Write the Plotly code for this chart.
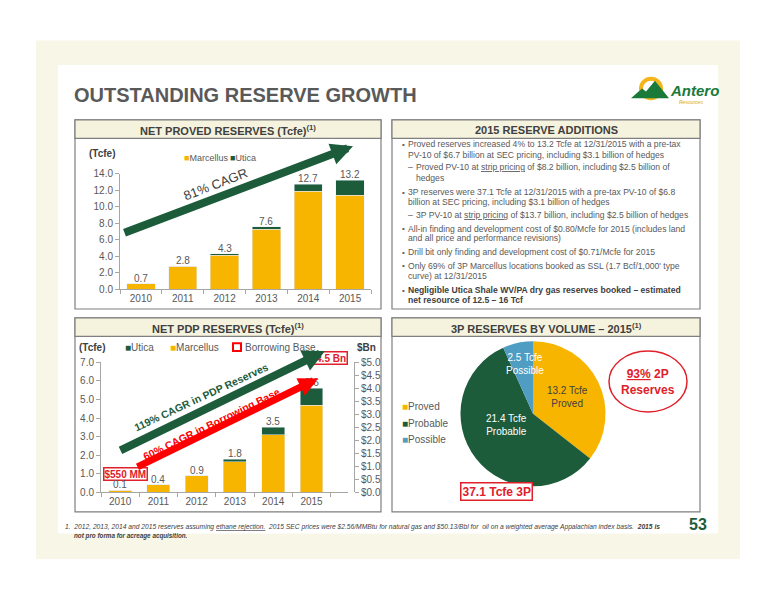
import plotly.graph_objects as go

# ---- data ----
years = ["2010", "2011", "2012", "2013", "2014", "2015"]

proved_marcellus = [0.7, 2.8, 4.15, 7.3, 11.9, 11.4]
proved_utica = [0.0, 0.0, 0.15, 0.3, 0.8, 1.8]
proved_totals = [0.7, 2.8, 4.3, 7.6, 12.7, 13.2]

pdp_marcellus = [0.1, 0.4, 0.9, 1.65, 3.1, 4.7]
pdp_utica = [0.0, 0.0, 0.0, 0.12, 0.4, 0.9]
pdp_totals = [0.1, 0.4, 0.9, 1.8, 3.5, 5.6]

bb_years = ["2010", "2015"]
bb_values = [0.55, 4.5]
bb_labels = ["$550 MM", "$4.5 Bn"]

pie_labels = ["Proved", "Probable", "Possible"]
pie_values = [13.2, 21.4, 2.5]

bullets = [
    (0, "Proved reserves increased 4% to 13.2 Tcfe at 12/31/2015 with a pre-tax", 141),
    (0, "PV-10 of $6.7 billion at SEC pricing, including $3.1 billion of hedges", 152),
    (1, "Proved PV-10 at <span style='text-decoration:underline'>strip pricing</span> of $8.2 billion, including $2.5 billion of", 164),
    (1, "hedges", 175),
    (0, "3P reserves were 37.1 Tcfe at 12/31/2015 with a pre-tax PV-10 of $6.8", 190),
    (0, "billion at SEC pricing, including $3.1 billion of hedges", 200),
    (1, "3P PV-10 at <span style='text-decoration:underline'>strip pricing</span> of $13.7 billion, including $2.5 billion of hedges", 213),
    (0, "All-in finding and development cost of $0.80/Mcfe for 2015 (includes land", 227),
    (0, "and all price and performance revisions)", 237),
    (0, "Drill bit only finding and development cost of $0.71/Mcfe for 2015", 251),
    (0, "Only 69% of 3P Marcellus locations booked as SSL (1.7 Bcf/1,000' type", 265),
    (0, "curve) at 12/31/2015", 275),
    (2, "<b>Negligible Utica Shale WV/PA dry gas reserves booked \u2013 estimated</b>", 290),
    (2, "<b>net resource of 12.5 \u2013 16 Tcf</b>", 300),
]
bullet_starts = [141, 190, 227, 251, 265, 290]
dash_starts = [164, 213]

# ---- styling ----
W, H = 776, 600
OFF = 8  # page body margin
GOLD = "#F7B500"
GREEN = "#1D5C3B"
BLUE = "#4F9DC2"
RED = "#FF0000"
DRED = "#E0202A"
TXT = "#595959"
FONT = "Liberation Sans, Arial, sans-serif"


def px(x):
    return (x - OFF) / W


def py(y):
    return 1 - (y - OFF) / H


fig = go.Figure()

# top chart: net proved reserves
fig.add_trace(go.Bar(x=years, y=proved_marcellus, name="Marcellus", marker_color=GOLD,
                     width=0.68, xaxis="x", yaxis="y"))
fig.add_trace(go.Bar(x=years, y=proved_utica, name="Utica", marker_color=GREEN,
                     width=0.68, xaxis="x", yaxis="y"))

# bottom chart: net PDP reserves
fig.add_trace(go.Bar(x=years, y=pdp_marcellus, name="Marcellus", marker_color=GOLD,
                     width=0.6, xaxis="x2", yaxis="y2"))
fig.add_trace(go.Bar(x=years, y=pdp_utica, name="Utica", marker_color=GREEN,
                     width=0.6, xaxis="x2", yaxis="y2"))
fig.add_trace(go.Scatter(x=bb_years, y=bb_values, mode="markers", marker=dict(opacity=0),
                         xaxis="x2", yaxis="y3", hoverinfo="skip"))

# pie: 3P reserves by volume
fig.add_trace(go.Pie(
    labels=pie_labels, values=pie_values, sort=False, direction="clockwise", rotation=0,
    marker=dict(colors=[GOLD, GREEN, BLUE], line=dict(width=0)),
    texttemplate="%{value} Tcfe<br>%{label}", textposition=["inside", "none", "none"],
    insidetextorientation="horizontal",
    insidetextfont=dict(size=10, color="#404040", family=FONT),
    domain=dict(x=[px(459), px(607)], y=[py(490), py(342)]),
))

axis_common = dict(showgrid=False, zeroline=False, showline=True, linecolor="#A6A6A6",
                   ticks="outside", ticklen=4, tickcolor="#A6A6A6",
                   tickfont=dict(size=10, color=TXT, family=FONT))

fig.update_layout(
    width=W, height=H, margin=dict(l=0, r=0, t=0, b=0),
    paper_bgcolor="white", plot_bgcolor="rgba(0,0,0,0)",
    barmode="stack", showlegend=False, font=dict(family=FONT, color=TXT),
    xaxis=dict(axis_common, domain=[px(120), px(371)], type="category", anchor="y",
               tickson="boundaries"),
    yaxis=dict(axis_common, domain=[py(289), py(171)], range=[0, 14], dtick=2,
               tickformat=".1f", anchor="x"),
    xaxis2=dict(axis_common, domain=[px(101), px(348)], type="category", anchor="y2",
                tickson="boundaries"),
    yaxis2=dict(axis_common, domain=[py(496), py(363.5)], range=[0, 7], dtick=1,
                tickformat=".1f", anchor="x2"),
    yaxis3=dict(axis_common, overlaying="y2", side="right", anchor="free", position=px(354),
                range=[0, 5], dtick=0.5, tickformat=".1f", tickprefix="$"),
)

shapes = []
# page background
shapes.append(dict(type="rect", x0=px(36), x1=px(740), y0=py(35), y1=py(564),
                   fillcolor="#F7F6E7", line_width=0))
shapes.append(dict(type="rect", x0=px(58), x1=px(718), y0=py(60), y1=py(538),
                   fillcolor="white", line_width=0))
# panels with header bands
panels = [(75, 381, 116, 309), (392, 700, 116, 309), (75, 381, 318, 516), (392, 700, 318, 516)]
for x0, x1, y0, y1 in panels:
    shapes.append(dict(type="rect", x0=px(x0), x1=px(x1), y0=py(y0), y1=py(y1),
                       line=dict(color="#7F7F7F", width=1.2)))
    shapes.append(dict(type="rect", x0=px(x0), x1=px(x1), y0=py(y0), y1=py(y0 + 19),
                       fillcolor="#F5F3DE", line=dict(color="#7F7F7F", width=1.2)))
for s in shapes:
    s.update(xref="paper", yref="paper", layer="below")

# logo
shapes.append(dict(type="circle", xref="paper", yref="paper", x0=px(639), x1=px(663),
                   y0=py(96), y1=py(72), fillcolor="#F4B41A", line_width=0))
shapes.append(dict(type="circle", xref="paper", yref="paper", x0=px(643), x1=px(659),
                   y0=py(92), y1=py(76), fillcolor="white", line_width=0))
mountain = [(631, 94), (642, 84), (646, 87), (655, 76), (669, 94)]
shapes.append(dict(type="path", xref="paper", yref="paper",
                   path="M " + " L ".join(f"{px(a)},{py(b)}" for a, b in mountain) + " Z",
                   fillcolor="#1A7A3A", line_width=0))

# borrowing base legend box
shapes.append(dict(type="rect", xref="paper", yref="paper", x0=px(233), x1=px(241),
                   y0=py(352), y1=py(344), line=dict(color=RED, width=2)))
# 93% 2P ellipse
shapes.append(dict(type="circle", xref="paper", yref="paper", x0=px(609), x1=px(687),
                   y0=py(414), y1=py(352), line=dict(color=DRED, width=1.5)))
fig.update_layout(shapes=shapes)

ann = []


def text(x, y, t, size=10, color=TXT, bold=False, xanchor="center", family=FONT, **kw):
    if bold:
        t = f"<b>{t}</b>"
    ann.append(dict(xref="paper", yref="paper", x=px(x), y=py(y), text=t, showarrow=False,
                    xanchor=xanchor, yanchor="middle", font=dict(size=size, color=color, family=family), **kw))


# borrowing base boxes first (category axis -> index positions), so labels draw over them
for yr, v, lab, xs, ys in zip(bb_years, bb_values, bb_labels, [5, 17], [4, 17]):
    ann.append(dict(xref="x2", yref="y3", x=years.index(yr), y=v, text=f"<b>{lab}</b>",
                    showarrow=False, xshift=xs, yshift=ys, bgcolor="white", bordercolor=DRED,
                    borderwidth=1.5, borderpad=0, font=dict(size=10, color=DRED, family=FONT)))

# total labels sitting on top of the stacks
for xr, yr, totals in [("x", "y", proved_totals), ("x2", "y2", pdp_totals)]:
    for i, v in enumerate(totals):
        ann.append(dict(xref=xr, yref=yr, x=i, y=v, text=f"{v:.1f}", showarrow=False,
                        yanchor="bottom", yshift=-2, font=dict(size=10, color=TXT, family=FONT)))

text(72, 91, "OUTSTANDING RESERVE GROWTH", size=20, bold=True, xanchor="left")
text(668, 86, "<i>Antero</i>", size=15, color="#1A7A3A", bold=True, xanchor="left")
text(705, 98, "<i>Resources</i>", size=5, color="#E0A800", xanchor="right")

text(228, 126, "NET PROVED RESERVES (Tcfe)<sup>(1)</sup>", size=11, color="#404040", bold=True)
text(546, 126, "2015 RESERVE ADDITIONS", size=11, color="#404040", bold=True)
text(228, 328, "NET PDP RESERVES (Tcfe)<sup>(1)</sup>", size=11, color="#404040", bold=True)
text(546, 328, "3P RESERVES BY VOLUME \u2013 2015<sup>(1)</sup>", size=11, color="#404040", bold=True)

# legends
text(87, 150, "(Tcfe)", size=10, color="#404040", bold=True, xanchor="left")
text(182, 155, f"<span style='color:{GOLD}'>\u25a0</span>Marcellus", size=9, xanchor="left")
text(228, 155, f"<span style='color:{GREEN}'>\u25a0</span>Utica", size=9, xanchor="left")

text(77, 348, "(Tcfe)", size=10, color="#404040", bold=True, xanchor="left")
text(123, 348, f"<span style='color:{GREEN}'>\u25a0</span>Utica", size=10, xanchor="left")
text(168, 348, f"<span style='color:{GOLD}'>\u25a0</span>Marcellus", size=10, xanchor="left")
text(243, 348, "Borrowing Base", size=10, xanchor="left")
text(378, 348, "$Bn", size=10, color="#404040", bold=True, xanchor="right")

for i, (lab, col) in enumerate(zip(pie_labels, [GOLD, GREEN, BLUE])):
    text(400, 409 + 16.5 * i, f"<span style='color:{col}'>\u25a0</span>{lab}", size=10, xanchor="left")

# labels for the probable and possible slices
text(506, 427, f"{pie_values[1]} Tcfe<br>{pie_labels[1]}", size=10, color="white")
text(525, 365, f"{pie_values[2]} Tcfe<br>{pie_labels[2]}", size=10, color="white")

# 2P and 3P callouts
share_2p = (pie_values[0] + pie_values[1]) / sum(pie_values) * 100
text(648, 383, f"<span style='text-decoration:underline'>{share_2p:.0f}%</span> 2P<br>Reserves",
     size=12, color=DRED, bold=True)
ann.append(dict(xref="paper", yref="paper", x=px(533), y=py(505), showarrow=False,
                text=f"<b>{sum(pie_values):.1f} Tcfe 3P</b>", bgcolor="white",
                bordercolor=DRED, borderwidth=1.5, borderpad=1,
                font=dict(size=12, color=DRED, family=FONT)))

# arrows


def arrow(x0, y0, x1, y1, color, width):
    ann.append(dict(xref="paper", yref="paper", x=px(x1), y=py(y1), ax=x0 - x1, ay=y0 - y1,
                    axref="pixel", ayref="pixel", text="", showarrow=True, arrowhead=2,
                    arrowsize=0.55, arrowwidth=width, arrowcolor=color, standoff=0))


arrow(123, 230, 353, 143, GREEN, 8)
arrow(119, 452, 325, 352, GREEN, 8)
arrow(136, 469, 318, 380, RED, 7)
text(215, 182, "81% CAGR", size=13, color="#404040", textangle=-21)
text(201, 399, "119% CAGR in PDP Reserves", size=10.5, color=GREEN, bold=True, textangle=-25)
text(211, 426, "60% CAGR in Borrowing Base", size=10.5, color=RED, bold=True, textangle=-26)

# bullet text
for level, line, y in bullets:
    xs = {0: 406, 1: 414, 2: 406}[level]
    col = "#404040" if level == 2 else TXT
    text(xs, y, line, size=8.6, color=col, xanchor="left")
for y in bullet_starts:
    text(400, y, "\u2022", size=8, color=TXT, xanchor="left")
for y in dash_starts:
    text(406, y, "\u2013", size=8.6, color=TXT, xanchor="left")

# footnote and page number
text(63, 531, "<i>1.  2012, 2013, 2014 and 2015 reserves assuming "
     "<span style='text-decoration:underline'>ethane rejection.</span>  2015 SEC prices were $2.56/MMBtu "
     "for natural gas and $50.13/Bbl for  oil on a weighted average Appalachian index basis.  "
     "<b>2015 is</b></i>", size=6.7, color="#404040", xanchor="left")
text(72, 541, "<b><i>not pro forma for acreage acquisition.</i></b>", size=6.3, color="#404040",
     xanchor="left")
text(698, 529, "53", size=16, color=GREEN, bold=True)

fig.update_layout(annotations=ann)
fig.write_html("out.html")
